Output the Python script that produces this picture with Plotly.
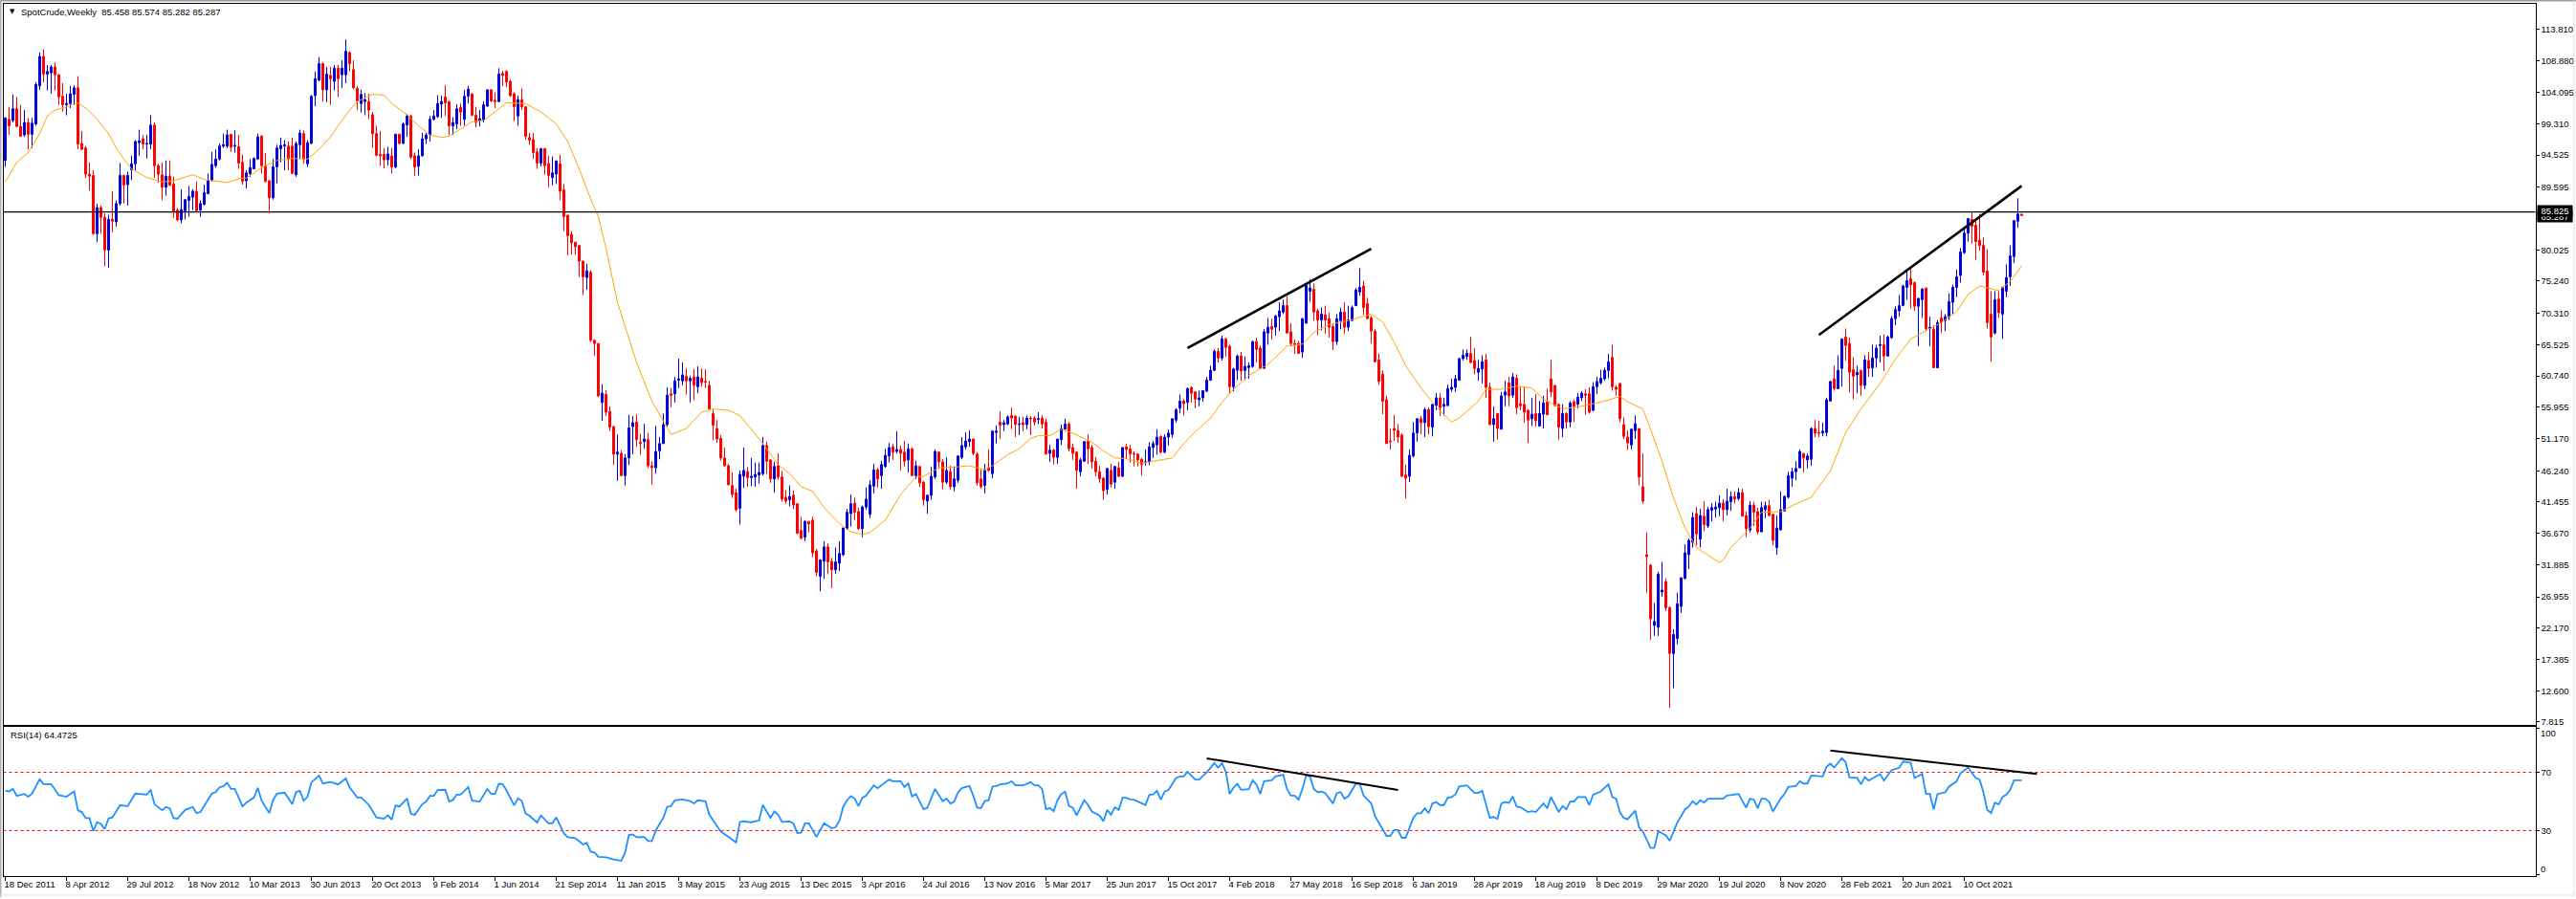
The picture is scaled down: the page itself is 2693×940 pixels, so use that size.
import plotly.graph_objects as go

opens = [
93.7,100.0,99.8,101.6,98.9,97.6,99.5,97.7,99.3,105.1,
109.6,106.9,107.1,108.0,106.8,103.5,102.2,102.4,103.8,104.8,
96.3,95.6,91.6,91.4,82.5,86.5,85.0,80.0,84.7,84.3,
87.1,91.4,90.0,92.3,93.2,96.4,97.0,96.2,96.2,99.1,
92.9,91.5,89.6,91.3,90.1,86.1,84.6,86.0,87.6,88.1,
89.0,86.1,87.0,88.6,90.6,92.9,93.9,95.9,95.9,97.7,
95.9,95.8,93.4,90.6,91.7,92.4,93.9,97.4,92.9,90.6,
88.0,92.7,95.5,95.9,95.9,95.9,91.5,96.1,97.8,93.2,
96.3,103.6,106.0,108.5,104.5,106.7,105.8,107.8,106.8,106.8,
110.2,107.6,104.7,102.4,102.7,102.7,100.7,97.8,94.6,94.6,
93.8,94.4,92.7,97.7,96.3,99.1,100.5,94.4,92.8,94.4,
97.0,97.6,100.0,100.4,102.3,103.4,102.7,99.0,99.3,101.8,
100.0,103.5,103.9,100.6,99.8,99.9,102.0,104.5,102.9,102.7,
107.0,107.3,105.8,103.9,100.5,103.0,101.9,97.2,96.9,95.0,
93.3,95.5,93.2,91.1,91.6,93.2,89.2,85.3,82.4,81.2,
80.7,78.3,75.8,76.6,66.2,65.7,56.7,57.9,55.3,53.0,
48.8,48.9,45.5,48.2,53.0,53.7,50.6,50.7,51.0,47.0,
46.7,49.3,50.4,53.3,58.0,58.0,60.1,60.0,60.7,60.0,
60.6,59.1,60.4,59.9,59.3,55.0,52.7,51.2,48.2,47.0,
44.0,42.9,40.5,45.4,46.1,45.2,45.3,45.6,45.8,50.1,
47.9,45.0,47.0,45.3,42.2,41.8,42.5,41.2,37.1,36.1,
38.5,38.7,34.0,30.1,32.4,34.6,32.4,31.1,32.1,33.4,
37.4,39.7,41.3,40.0,37.4,40.7,39.6,43.9,46.4,45.5,
46.9,48.5,49.9,49.2,49.5,49.1,47.9,49.6,45.5,46.9,
44.5,41.6,42.5,45.3,49.1,47.6,44.5,46.1,43.8,44.8,
48.3,49.9,50.7,51.1,48.8,45.0,44.0,46.7,45.8,52.1,
53.7,53.3,53.4,54.7,54.6,53.3,53.6,53.3,54.3,54.3,
54.1,54.3,53.7,48.9,49.4,48.3,51.0,52.6,53.4,49.8,
49.1,46.1,47.7,50.8,49.8,47.7,46.1,45.1,43.4,46.3,
44.5,46.7,45.4,49.9,49.6,48.9,48.8,48.0,47.5,47.6,
49.8,50.2,51.5,49.1,51.4,51.8,54.0,55.8,56.9,56.7,
59.0,58.3,57.1,57.4,58.4,60.1,61.6,64.5,63.5,66.4,
65.3,59.1,61.6,63.8,61.6,62.0,62.2,66.0,65.0,61.9,
67.3,68.3,68.2,69.8,70.5,71.5,67.5,65.7,65.7,64.4,
68.8,73.7,74.0,70.7,69.3,70.1,69.5,68.3,66.0,69.2,
70.5,68.2,69.2,71.5,73.6,74.5,71.8,69.6,67.6,63.2,
61.0,57.1,50.8,52.7,52.4,51.7,45.6,45.4,48.5,52.0,
54.2,53.6,55.6,52.9,56.2,57.4,56.1,56.2,58.7,59.0,
60.1,63.4,63.7,64.2,63.1,61.3,61.8,63.2,59.0,53.3,
55.0,52.6,57.8,59.7,57.8,60.4,56.5,56.4,55.5,54.2,
55.0,53.1,54.9,56.8,60.3,59.3,56.4,52.7,55.0,53.7,
56.8,56.4,57.4,58.0,58.0,55.5,59.1,59.7,60.3,61.6,
63.6,59.0,59.6,53.3,51.4,50.2,52.4,52.7,43.8,33.4,
31.8,22.6,22.3,27.7,29.3,25.3,18.3,20.6,25.5,29.8,
33.4,35.3,39.7,35.8,39.3,37.8,40.2,40.4,40.6,41.3,
40.3,41.5,42.3,42.0,42.9,39.4,37.2,41.0,40.0,36.9,
40.3,40.9,39.6,34.5,37.2,40.1,42.2,45.1,46.1,46.7,
48.9,47.9,48.0,52.7,52.1,52.0,52.1,56.9,60.3,58.8,
61.9,66.7,65.7,61.7,60.9,61.6,59.3,63.1,62.0,63.5,
65.4,65.5,63.8,66.6,69.5,70.7,71.5,74.3,75.6,75.0,
71.4,72.4,74.2,68.0,67.9,62.0,69.6,69.2,69.8,72.0,
74.3,76.1,79.6,82.6,84.7,83.8,81.5,80.7,76.8,70.2,
67.3,72.5,70.2,73.7,75.9,79.0,84.4,85.458]

highs = [
100.3,101.9,103.8,103.4,102.2,101.4,100.2,100.2,105.7,110.2,
110.7,108.3,108.3,108.7,106.9,105.5,103.9,105.1,105.2,106.6,
98.2,95.9,93.4,92.2,87.1,86.8,85.6,85.4,89.0,87.6,
93.3,91.5,92.0,94.4,96.8,98.4,97.6,97.6,100.6,99.5,
93.2,93.4,93.7,93.7,91.2,86.4,89.3,87.8,89.8,89.3,
90.5,87.6,90.0,91.7,95.0,95.4,96.3,97.8,98.4,97.7,
98.3,97.6,94.6,92.2,93.9,94.2,97.8,97.6,94.8,90.7,
93.9,96.1,97.2,96.8,96.6,97.2,96.6,98.4,98.3,96.8,
103.7,107.3,109.5,108.7,108.0,108.0,108.3,108.3,109.0,112.2,
110.4,109.0,105.1,104.5,104.0,103.9,101.1,99.0,98.2,95.6,
95.8,95.6,97.8,97.8,99.5,100.8,100.7,94.9,95.4,97.9,
97.9,100.5,101.4,103.7,103.6,105.2,102.8,100.3,102.3,102.4,
104.5,105.1,103.9,101.9,101.4,102.7,104.5,104.6,104.1,107.8,
107.4,107.5,106.1,104.1,103.6,104.7,102.0,97.9,97.9,95.6,
95.6,95.6,94.4,94.3,93.7,94.6,90.1,85.4,82.9,81.2,
80.7,78.4,77.9,76.9,66.3,65.7,59.5,58.6,56.1,53.1,
51.8,49.4,48.8,54.8,54.6,54.9,51.9,53.4,52.0,47.7,
53.1,51.4,55.0,59.0,58.9,60.6,63.4,62.8,61.9,60.8,
61.8,62.2,61.9,61.8,60.0,55.6,54.0,51.7,49.8,47.3,
46.0,43.5,46.3,49.8,46.8,48.2,47.5,47.5,51.4,50.7,
48.0,47.6,48.9,46.2,43.3,44.0,43.2,41.2,39.2,38.7,
38.5,39.2,34.3,32.7,35.5,35.1,32.9,34.5,35.5,37.5,
40.4,42.6,42.1,40.6,40.9,43.7,44.8,47.3,46.7,47.8,
49.6,50.5,50.4,52.3,50.1,50.8,50.4,49.8,47.8,46.9,
44.7,42.6,46.9,49.5,49.1,48.0,48.3,47.0,46.9,48.6,
51.4,52.1,52.4,51.2,49.1,46.4,47.3,49.5,52.4,53.2,
55.3,54.0,54.7,55.9,54.7,54.5,54.5,54.7,54.6,54.6,
55.2,54.7,54.2,50.2,49.6,51.1,53.3,54.2,53.7,50.4,
49.2,48.2,50.7,51.8,50.2,48.3,47.0,45.3,46.6,47.3,
47.0,47.6,49.8,50.4,50.2,49.2,48.9,48.2,49.5,50.6,
50.8,52.6,51.6,51.8,52.5,54.2,55.8,57.9,57.2,59.0,
59.1,58.4,58.5,58.5,60.6,62.3,64.8,65.0,66.9,66.6,
65.5,62.0,64.0,64.4,63.7,62.8,66.1,66.6,65.4,67.9,
69.6,69.5,70.1,72.0,72.4,72.9,68.8,66.3,66.1,69.6,
74.6,75.5,74.9,71.0,71.2,71.5,70.4,68.6,70.2,71.2,
72.0,71.5,71.5,74.2,77.2,75.3,72.7,69.9,67.9,64.2,
61.6,57.7,52.7,54.8,53.4,52.0,47.2,49.5,53.7,54.3,
54.6,55.9,55.9,56.4,58.1,58.1,57.4,59.4,60.3,60.9,
63.5,64.8,64.8,66.7,65.0,63.2,63.9,64.1,59.7,56.1,
55.0,58.3,60.0,60.6,61.2,61.0,59.1,59.0,55.6,57.4,
58.0,56.9,57.7,58.8,63.2,59.3,56.5,56.4,55.2,56.9,
57.1,58.1,58.4,58.7,59.0,59.8,60.6,61.7,62.0,64.1,
65.5,59.3,59.7,54.4,52.4,52.7,54.7,52.7,48.9,36.8,
32.0,26.0,30.8,32.3,29.8,25.5,22.0,27.6,29.9,35.0,
35.9,39.9,40.7,40.4,41.6,40.7,41.3,41.5,42.5,41.9,
43.5,43.1,43.1,43.6,43.5,40.0,41.6,41.5,40.6,41.5,
41.5,41.8,39.6,39.4,43.1,42.5,46.1,46.7,47.7,49.5,
48.9,48.9,52.9,54.0,53.9,53.6,57.4,59.9,62.3,63.9,
66.4,68.0,66.6,63.6,62.3,61.6,63.9,64.4,65.5,65.5,
66.9,67.1,66.9,69.9,71.4,73.1,74.7,76.9,77.2,75.2,
72.7,74.2,74.2,69.8,68.5,69.3,70.8,70.2,73.4,74.7,
77.0,80.3,83.2,84.8,85.8,84.5,85.5,81.9,80.1,73.7,
73.7,73.7,74.4,77.8,80.7,84.5,87.9,85.574]

lows = [
92.7,97.6,99.5,98.8,97.3,97.3,95.4,95.6,99.0,104.5,
105.6,104.4,103.9,104.4,102.2,101.2,100.6,101.7,102.2,95.4,
95.3,91.0,89.1,82.3,81.2,82.5,77.5,77.3,82.7,83.6,
86.8,87.1,86.8,90.7,92.2,94.4,95.4,94.0,95.4,91.0,
90.3,87.6,88.3,89.8,84.9,84.4,84.1,84.7,85.1,86.1,
85.7,85.1,86.8,88.6,90.5,92.6,93.7,95.6,95.6,95.0,
94.9,92.4,90.0,89.4,91.2,92.4,93.9,91.7,90.3,85.6,
87.7,90.2,93.4,92.2,92.2,91.6,91.2,93.9,93.2,92.7,
96.2,102.0,105.8,102.7,102.6,102.2,104.4,103.4,104.8,105.5,
107.3,104.6,101.4,101.0,100.6,100.0,95.6,94.3,92.9,92.5,
92.9,91.7,92.5,96.1,96.2,97.3,93.9,91.3,91.4,94.3,
96.2,96.6,99.8,100.2,100.2,100.5,97.6,97.6,98.5,99.0,
99.0,102.4,100.5,98.8,98.9,99.5,101.9,102.6,101.7,102.6,
105.1,104.9,103.4,99.7,99.0,101.4,96.9,96.1,93.9,92.4,
92.8,91.5,89.6,89.9,90.1,87.6,82.9,79.2,79.3,79.3,
75.9,73.1,73.9,65.9,63.8,57.5,53.9,54.6,52.3,47.1,
44.7,45.4,44.0,47.1,48.8,49.9,48.7,49.6,46.7,44.1,
45.8,48.0,50.4,53.0,56.0,56.7,58.9,59.3,57.9,56.7,
57.0,58.1,59.1,58.9,55.6,50.9,50.5,47.8,46.9,44.0,
42.1,40.0,38.0,43.6,43.8,43.9,43.8,44.3,45.5,45.8,
44.4,42.9,44.9,41.5,41.2,40.8,40.4,36.5,35.8,35.5,
36.8,33.0,30.1,27.8,29.7,30.4,28.3,30.5,30.9,33.2,
37.2,37.7,38.7,37.2,36.1,40.3,39.0,42.8,43.7,43.5,
46.7,47.5,47.9,48.9,46.3,46.9,46.0,45.4,45.0,43.8,
40.9,39.7,41.8,45.0,46.6,43.4,44.2,43.4,43.1,44.4,
48.0,49.5,49.9,48.6,44.0,43.5,42.8,46.1,45.1,50.4,
51.1,52.3,53.2,52.6,51.4,51.7,52.3,52.6,51.7,53.2,
53.4,52.7,48.8,47.6,47.2,47.3,50.2,52.6,49.2,47.9,
43.5,45.4,47.7,47.3,46.6,45.4,44.4,41.8,42.6,43.7,
43.5,45.3,45.3,48.0,47.5,46.9,46.9,45.5,47.0,47.1,
48.2,48.7,48.9,48.9,50.1,51.3,53.6,55.0,54.7,55.5,
56.7,55.8,56.1,56.8,58.3,60.0,61.5,62.8,63.1,63.7,
58.1,58.4,60.1,60.0,60.1,60.3,62.0,62.8,61.8,61.9,
65.5,66.3,66.9,67.6,70.2,67.3,65.4,64.1,64.2,63.5,
68.8,72.1,69.2,67.0,67.7,67.2,66.6,64.7,65.5,67.9,
67.2,67.6,69.2,71.4,73.0,70.1,69.5,65.7,62.8,59.4,
54.9,50.4,49.5,50.8,50.5,45.3,42.0,44.5,48.3,50.7,
51.8,51.4,51.8,51.5,55.5,54.6,54.7,56.2,58.3,58.3,
60.1,63.1,63.2,62.7,61.0,60.0,59.6,57.4,53.2,50.7,
51.0,52.6,56.1,56.1,57.4,54.9,55.5,53.6,50.5,53.1,
53.0,53.0,52.7,54.8,57.5,56.2,51.0,51.4,52.7,52.9,
53.7,55.8,56.9,54.8,55.0,55.3,58.0,59.4,60.0,60.4,
58.5,57.7,53.7,51.1,49.4,49.5,51.1,44.0,41.2,27.6,
20.4,21.0,21.0,27.0,24.8,10.0,13.0,19.7,24.5,29.6,
31.2,34.5,34.8,34.5,37.0,37.5,38.5,39.1,39.3,38.5,
39.4,40.1,41.2,41.7,39.3,36.1,36.8,37.8,36.5,36.9,
39.0,39.3,34.8,33.4,37.1,40.0,42.0,43.8,44.8,46.6,
46.0,46.6,47.0,51.4,51.4,51.5,51.5,56.9,58.5,58.8,
59.1,63.1,58.2,57.2,58.1,57.7,58.7,60.6,60.6,62.0,
62.8,61.5,63.7,66.4,68.5,69.8,71.4,72.4,71.0,70.7,
65.3,69.6,67.7,65.3,62.0,61.9,67.3,67.6,69.3,70.1,
72.8,75.0,79.4,81.3,81.0,78.5,79.9,76.1,68.0,62.9,
67.1,69.6,66.4,72.8,74.5,78.0,83.4,85.282]

closes = [
100.2,99.0,101.6,98.9,97.4,99.5,97.7,99.4,105.3,109.6,
106.9,107.3,108.0,106.8,103.4,102.2,102.4,103.9,104.8,96.2,
95.4,91.6,91.3,82.5,86.5,85.0,80.0,84.7,84.4,87.1,
91.4,89.9,91.4,93.2,96.6,96.7,96.2,96.3,99.1,92.9,
91.6,89.6,91.3,89.9,85.9,84.6,86.2,87.7,88.2,89.0,
86.0,87.1,88.8,90.6,93.1,93.9,95.9,96.1,97.6,95.7,
96.0,93.3,90.5,91.8,92.6,94.0,97.3,92.9,90.5,88.0,
92.7,95.6,96.0,96.1,93.9,91.7,96.3,97.9,93.9,96.4,
103.5,106.2,108.5,104.5,106.9,106.2,107.8,106.2,107.8,110.4,
108.5,104.8,102.8,103.8,103.0,101.4,97.8,94.5,94.4,93.8,
94.7,92.7,97.7,96.3,99.3,100.5,94.2,92.7,94.4,97.0,
97.6,100.0,100.5,102.4,102.7,102.5,99.0,99.5,101.6,101.1,
103.5,104.6,100.6,99.5,100.1,102.2,104.5,102.8,102.7,106.9,
106.7,105.7,103.6,101.9,103.0,101.9,97.4,96.8,94.9,93.3,
95.5,92.9,91.4,91.8,93.6,89.0,85.1,82.2,81.1,80.5,
78.3,75.9,76.8,66.2,65.7,57.7,58.1,55.2,52.9,48.8,
49.1,45.5,48.2,52.8,53.6,51.0,50.4,51.1,47.0,46.7,
49.2,50.4,53.3,57.8,57.8,60.0,60.3,60.9,60.0,60.4,
59.3,60.6,59.7,59.8,55.7,53.2,51.1,48.2,47.0,44.1,
42.6,40.3,45.7,46.3,45.2,45.4,45.7,46.0,50.1,47.7,
45.0,46.9,45.3,41.9,41.6,42.3,41.0,36.7,35.9,38.5,
38.1,33.7,30.7,32.6,34.6,32.3,31.1,32.3,33.6,37.5,
39.9,41.2,39.9,37.4,40.7,41.9,44.1,46.4,45.0,47.2,
48.6,49.8,49.1,49.5,48.9,47.7,49.6,45.5,47.0,44.4,
41.8,42.5,45.4,49.2,47.6,44.5,46.3,43.8,45.0,48.5,
50.1,50.8,51.1,48.9,44.4,43.8,46.3,46.3,52.3,52.3,
53.2,53.6,54.5,54.3,53.3,53.4,53.3,54.3,54.2,53.7,
54.2,53.4,48.8,49.4,48.3,51.1,52.7,53.4,49.6,48.9,
46.3,47.9,50.7,49.6,47.6,46.1,45.0,43.2,46.6,44.2,
46.9,45.4,49.8,49.5,48.8,48.8,47.9,47.2,47.6,49.9,
50.4,51.4,49.1,51.4,52.0,54.2,55.6,56.9,56.5,58.8,
58.1,57.2,57.4,58.5,60.1,61.6,64.5,63.5,66.4,65.1,
59.1,61.8,63.8,61.5,62.2,62.3,66.0,64.8,61.9,67.5,
68.2,67.9,69.9,70.7,71.5,67.3,65.7,65.5,64.2,69.5,
74.6,74.2,70.5,69.3,70.2,69.3,68.2,66.0,69.5,70.5,
68.2,69.3,71.2,73.9,74.3,71.2,69.5,67.6,62.9,59.9,
56.9,50.4,50.7,52.4,51.4,45.4,45.1,48.6,52.0,54.2,
53.6,55.6,53.0,56.4,57.4,55.9,56.4,58.8,59.0,60.3,
63.4,63.9,64.2,62.8,61.9,61.9,62.9,59.0,53.3,54.2,
52.7,57.7,58.3,57.7,60.6,55.9,56.2,55.2,54.0,54.9,
53.9,55.0,56.6,54.8,58.3,56.2,52.9,55.0,53.7,56.6,
56.1,57.5,58.1,57.8,55.2,59.1,59.9,60.4,61.6,62.9,
59.1,58.7,54.2,51.5,50.5,52.6,53.4,45.3,41.6,33.1,
23.6,23.2,30.4,28.0,25.3,18.3,21.2,25.9,29.9,33.7,
35.6,39.1,36.6,39.4,38.0,40.3,40.6,40.7,41.3,40.3,
41.6,42.3,41.9,42.9,39.3,37.4,41.0,39.9,36.9,40.6,
40.9,39.4,35.6,37.5,40.3,42.3,45.5,46.1,46.6,49.2,
48.2,48.5,52.7,52.0,52.0,52.3,57.1,59.9,58.8,61.6,
66.4,65.4,61.3,60.7,61.3,59.3,63.2,61.9,63.5,65.0,
65.5,63.8,66.7,69.5,70.9,71.5,74.5,75.3,74.7,71.4,
72.6,74.0,68.0,68.2,62.0,68.9,68.9,69.8,72.1,74.3,
75.9,79.7,82.6,84.8,83.6,81.3,80.7,76.6,68.9,66.7,
72.4,70.4,74.3,75.8,79.1,84.5,85.5,85.287]

ma_week = [0,3,6,9,11,13,16,19,21,24,27,29,31,33,37,41,44,47,49,52,56,58,61,63,67,71,75,79,82,85,87,90,92,96,99,101,105,108,111,114,116,120,122,125,128,131,136,140,144,147,150,153,155,157,160,165,169,
174,178,182,185,189,192,195,198,202,205,208,211,214,218,221,224,226,230,234,238,240,244,248,252,256,258,262,265,268,270,273,276,279,284,287,290,293,297,
301,305,308,311,315,318,321,325,330,335,339,342,346,351,357,360,363,366,370,374,378,380,385,387,391,395,399,402,407,412,418,422,424,428,430,433,436,439,442,448,449,451,456,459,464,467,472,
477,481,485,490,494,498,502,506,510,513,516,521,524,527]
ma_value = [90.4,93.4,94.9,97.8,100.5,101.4,101.9,102.5,101.7,100.0,97.8,95.6,93.9,92.4,91.1,90.4,90.6,91.2,91.5,90.8,90.4,90.3,90.9,91.0,92.6,93.7,94.0,93.9,95.4,97.3,99.0,101.4,102.7,103.8,103.7,102.4,100.7,99.0,97.6,97.2,97.4,98.8,99.6,99.8,101.2,102.5,102.4,101.1,99.3,96.6,92.4,87.8,85.1,80.3,72.0,62.8,56.9,
51.8,52.7,55.2,55.7,55.5,54.7,52.6,50.4,47.2,45.8,43.8,43.1,40.6,38.2,36.9,36.5,36.8,38.7,42.6,45.3,45.4,46.7,46.8,47.0,46.4,47.0,48.7,49.6,51.2,51.6,51.6,52.6,52.0,50.6,49.3,48.2,48.1,47.4,
47.8,48.2,50.4,52.2,54.3,56.7,58.7,60.8,62.5,65.3,65.6,67.4,68.6,69.2,70.2,69.0,65.9,62.3,58.9,56.0,53.7,54.3,56.9,58.7,58.7,59.2,58.9,57.2,55.7,56.1,56.9,57.6,56.8,55.7,52.6,47.7,42.1,37.5,34.5,32.2,32.6,34.5,37.5,39.9,40.0,40.9,42.2,
46.2,52.1,55.7,59.6,63.3,66.4,67.6,68.9,70.6,73.2,74.5,73.8,75.2,77.6]

rsi_week = [0,1,2,3,5,6,7,9,10,12,14,16,18,19,20,21,22,23,24,25,26,27,28,30,32,34,37,38,39,41,42,43,44,45,47,49,50,51,54,55,56,57,58,59,60,62,63,65,66,67,69,70,71,73,75,76,77,78,79,80,82,83,85,87,89,90,92,93,95,97,99,100,101,102,103,105,106,107,109,110,111,112,113,115,116,117,118,119,121,122,124,126,127,128,129,130,131,133,134,135,136,137,139,140,142,143,144,146,147,149,151,152,153,154,155,157,159,161,162,163,164,165,167,168,169,170,171,
172,173,174,175,177,179,180,181,183,184,185,186,187,189,191,192,193,195,196,197,198,200,201,202,203,205,206,207,208,209,210,212,214,216,217,218,219,220,221,222,223,224,225,227,228,231,232,234,235,236,237,238,240,241,243,245,246,247,248,249,250,252,253,254,255,256,257,258,259,260,262,263,264,266,268,269,270,271,272,273,274,275,276,277,278,279,280,282,283,284,286,287,288,289,290,291,292,293,294,295,
298,299,300,301,302,303,304,305,306,307,308,309,311,312,314,316,317,318,319,320,321,322,323,325,326,327,328,329,331,332,334,335,336,337,338,339,340,341,342,343,344,345,347,348,349,350,351,353,354,355,357,358,359,361,362,363,364,365,366,368,369,370,371,372,373,374,375,376,377,378,379,380,382,384,385,386,388,389,390,391,392,393,394,395,396,398,399,400,402,403,404,406,407,408,409,410,411,413,414,415,417,419,420,421,
422,423,424,426,427,428,430,431,432,434,435,437,439,440,441,442,443,444,445,449,450,453,455,456,457,458,459,460,461,462,464,465,466,468,469,470,471,472,475,476,477,478,480,481,482,484,485,486,487,490,491,493,495,496,498,499,501,502,503,504,505,507,508,510,511,513,515,516,517,518,519,520,521,522,523,524,525,526,527]
rsi_value = [57.5,56.9,58.6,53.8,55.1,53.2,55.4,65.2,61.9,61.9,54.3,53.2,56.9,43.8,42.7,38.5,38.5,29.6,35.7,34.6,30.9,38.3,39.0,47.3,46.8,55.4,54.7,58.0,48.1,44.0,46.2,45.1,38.5,38.1,44.2,46.2,42.0,42.7,55.4,56.4,59.7,60.4,62.8,58.6,58.6,46.6,49.2,52.7,59.3,50.5,42.0,51.0,55.4,56.0,48.1,56.4,57.3,50.5,53.2,63.0,67.8,62.3,63.4,61.7,65.8,59.7,52.7,52.7,47.7,39.0,38.1,40.5,37.4,47.3,46.4,52.1,41.6,40.7,48.1,49.9,53.8,53.8,57.8,58.0,49.9,51.0,54.7,54.7,59.9,50.5,49.9,58.6,55.1,55.1,62.1,61.9,57.5,47.3,52.1,50.3,41.6,40.1,35.5,40.3,35.0,35.0,39.0,28.0,25.4,24.8,20.4,21.5,15.4,14.9,11.9,11.6,10.1,9.2,14.9,26.9,27.4,25.4,25.6,22.8,22.8,29.8,34.6,
38.7,46.4,46.8,50.8,51.4,50.3,48.6,50.8,50.1,40.9,37.0,33.7,29.3,25.6,21.7,35.9,36.3,35.7,36.6,37.0,47.5,38.7,43.1,40.9,35.9,36.3,34.8,28.3,28.5,35.0,35.0,25.6,35.0,31.5,32.2,36.6,46.4,50.8,53.6,51.9,46.8,52.5,54.0,61.0,59.1,65.0,63.9,63.9,59.9,62.3,53.4,55.1,44.6,45.7,58.6,50.1,51.9,48.6,49.7,56.2,59.1,60.6,54.0,45.7,45.3,50.3,50.8,60.2,60.6,61.7,62.3,63.9,61.0,61.0,63.2,61.0,61.0,58.4,44.6,45.5,43.3,50.8,55.1,56.7,46.8,45.7,40.3,50.8,47.5,43.1,40.3,36.3,44.2,40.9,46.0,44.2,52.5,52.5,51.4,51.2,
47.5,54.5,54.8,57.3,51.2,56.7,57.8,62.1,66.1,67.2,67.2,70.4,65.0,65.0,70.0,76.3,73.3,76.3,70.4,55.1,59.5,62.1,58.0,58.4,64.5,61.7,55.1,63.9,64.5,67.2,68.3,58.4,54.0,54.0,51.2,58.4,67.8,67.2,58.4,56.4,56.7,55.6,48.6,55.6,56.4,51.9,53.4,62.3,62.1,54.0,48.6,39.8,35.5,26.3,26.3,30.4,30.4,25.0,25.0,38.7,41.9,41.9,45.3,41.9,48.6,49.5,47.5,47.5,52.5,53.0,54.8,60.2,61.0,55.8,55.8,57.3,38.7,39.3,38.0,48.6,49.5,49.0,53.4,46.4,46.0,42.7,43.3,42.7,48.6,45.3,53.0,42.7,46.8,44.6,49.9,49.9,53.0,53.0,47.5,54.7,56.9,61.7,53.0,51.9,
42.5,38.7,37.7,43.6,32.2,29.3,18.0,18.0,29.6,26.7,23.0,35.5,44.6,46.4,50.1,47.9,50.8,49.2,51.9,51.9,54.0,55.1,45.7,51.9,51.2,45.3,51.9,51.9,49.7,43.1,51.9,55.1,59.9,60.6,63.9,62.3,62.3,67.8,67.2,73.7,75.9,73.3,79.8,76.9,66.5,66.1,61.7,66.7,64.3,68.7,64.3,71.5,73.1,77.4,76.6,66.1,68.9,55.1,55.1,44.6,55.1,56.2,60.2,63.9,69.3,73.3,66.1,65.0,56.2,44.2,42.0,49.2,47.9,53.0,54.7,58.0,64.5,64.5,64.5]

week_numbers = list(range(len(opens)))
tick_labels = ["18 Dec 2011","8 Apr 2012","29 Jul 2012","18 Nov 2012","10 Mar 2013","30 Jun 2013","20 Oct 2013","9 Feb 2014","1 Jun 2014","21 Sep 2014","11 Jan 2015","3 May 2015","23 Aug 2015","13 Dec 2015","3 Apr 2016","24 Jul 2016","13 Nov 2016","5 Mar 2017","25 Jun 2017","15 Oct 2017","4 Feb 2018","27 May 2018","16 Sep 2018","6 Jan 2019","28 Apr 2019","18 Aug 2019","8 Dec 2019","29 Mar 2020","19 Jul 2020","8 Nov 2020","28 Feb 2021","20 Jun 2021","10 Oct 2021"]
tick_weeks = [16 * k for k in range(len(tick_labels))]
price_ticks = [113.81,108.88,104.095,99.31,94.525,89.595,84.81,80.025,75.24,70.31,65.525,60.74,55.955,51.17,46.24,41.455,36.67,31.885,26.955,22.17,17.385,12.6,7.815]
rsi_ticks = [100,70,30,0]
level_value = 85.825
rsi_levels = [70, 30]
trend_price_a = ([309, 357], [65.0, 80.2])
trend_price_b = ([474, 527], [67.0, 89.8])
trend_rsi_a = ([314, 364], [79.6, 57.8])
trend_rsi_b = ([477, 531], [84.9, 68.9])

W, H = 2693, 940
L, R, T_MAIN, B_MAIN, T_RSI, B_RSI = 3.5, 2650.5, 4.5, 759.5, 761.5, 917.5
FONT = "Liberation Sans"
FS = 9.5
def px(x): return x / W
def py(y): return 1 - y / H

fig = go.Figure()
fig.add_trace(go.Candlestick(
    x=week_numbers, open=opens, high=highs, low=lows, close=closes, xaxis="x", yaxis="y",
    increasing=dict(line=dict(color="#0000DC", width=1), fillcolor="#0000DC"),
    decreasing=dict(line=dict(color="#FF0000", width=1), fillcolor="#FF0000"),
    whiskerwidth=0, hoverinfo="skip"))
fig.add_trace(go.Scatter(x=ma_week, y=ma_value, mode="lines", xaxis="x", yaxis="y",
                         line=dict(color="#FFA500", width=1), hoverinfo="skip"))
for tx, ty in (trend_price_a, trend_price_b):
    fig.add_trace(go.Scatter(x=tx, y=ty, mode="lines", xaxis="x", yaxis="y",
                             line=dict(color="#000000", width=2.6), hoverinfo="skip"))
fig.add_trace(go.Scatter(x=rsi_week, y=rsi_value, mode="lines", xaxis="x2", yaxis="y2",
                         line=dict(color="#1E90FF", width=1.8), hoverinfo="skip"))
for tx, ty in (trend_rsi_a, trend_rsi_b):
    fig.add_trace(go.Scatter(x=tx, y=ty, mode="lines", xaxis="x2", yaxis="y2",
                             line=dict(color="#000000", width=2), hoverinfo="skip"))

xrange = [(L - 5.5) / 4, (R - 5.5) / 4]
yrange = [7.815 - (B_MAIN - 756.6) * 0.14594, 113.81 + (30.3 - T_MAIN) * 0.14594]
rsi_range = [-(B_RSI - 916.0) / 1.525, 100 + (763.5 - T_RSI) / 1.525]
axis_font = dict(family=FONT, size=FS, color="#000000")

shapes = [dict(type="line", xref="paper", yref="y", x0=px(L), x1=px(R), y0=level_value, y1=level_value,
               line=dict(color="#000000", width=1.3))]
for lv in rsi_levels:
    shapes.append(dict(type="line", xref="paper", yref="y2", x0=px(L), x1=px(R), y0=lv, y1=lv, layer="below",
                       line=dict(color="#FF0000", width=1, dash="3px,3px")))
shapes += [
    dict(type="rect", xref="paper", yref="paper", x0=0, x1=1, y0=py(1.5), y1=1, line_width=0, fillcolor="#9A9A9A"),
    dict(type="rect", xref="paper", yref="paper", x0=0, x1=px(1.5), y0=py(940), y1=1, line_width=0, fillcolor="#B0B0B0"),
    dict(type="rect", xref="paper", yref="paper", x0=px(2690.5), x1=px(2691.5), y0=py(938.5), y1=1, line_width=0, fillcolor="#E0E0E0"),
    dict(type="rect", xref="paper", yref="paper", x0=0, x1=px(2691.5), y0=py(938.5), y1=py(937.5), line_width=0, fillcolor="#E0E0E0"),
]

def note(text, x, y, **kw):
    base = dict(text=text, xref="paper", yref="paper", x=px(x), y=py(y), xanchor="left", yanchor="middle",
                showarrow=False, font=axis_font)
    base.update(kw)
    return base

white = dict(family=FONT, size=FS, color="#FFFFFF")
annotations = [
    note("▼", 8, 12.5, font=dict(family="DejaVu Sans", size=7, color="#000000")),
    note("SpotCrude,Weekly  85.458 85.574 85.282 85.287", 19.5, 12.5),
    note("RSI(14) 64.4725", 8.5, 770.5),
    note("100", 2654, 768.5),
    note("0", 2654, 910.5),
    note("85.287", 2652, 226.5, width=36, height=11, bgcolor="#000000", font=white, align="center", borderpad=0),
    note("85.825", 2652, 220.5, width=36, height=11, bgcolor="#000000", font=white, align="center", borderpad=0),
]

fig.update_layout(
    width=W, height=H, margin=dict(l=0, r=0, t=0, b=0, pad=0), autosize=False,
    paper_bgcolor="#FFFFFF", plot_bgcolor="#FFFFFF", showlegend=False, hovermode=False,
    xaxis=dict(domain=[px(L), px(R)], range=xrange, anchor="y", showticklabels=False, ticks="", showgrid=False,
               zeroline=False, showline=True, linecolor="#000000", linewidth=1, mirror=True,
               rangeslider=dict(visible=False)),
    yaxis=dict(domain=[py(B_MAIN), py(T_MAIN)], range=yrange, anchor="x", side="right", tickmode="array",
               tickvals=price_ticks, tickformat=".3f", ticks="outside", ticklen=3, tickcolor="#000000", showgrid=False,
               zeroline=False, showline=True, linecolor="#000000", linewidth=1, mirror=True, tickfont=axis_font),
    xaxis2=dict(domain=[px(L), px(R)], range=xrange, anchor="y2", tickmode="array", tickvals=tick_weeks,
                ticktext=tick_labels, ticks="outside", ticklen=4, tickcolor="#000000", showgrid=False, zeroline=False,
                showline=True, linecolor="#000000", linewidth=1, mirror=True, tickfont=axis_font,
                ticklabelposition="outside right", ticklabelshift=-2, tickangle=0),
    yaxis2=dict(domain=[py(B_RSI), py(T_RSI)], range=rsi_range,
                anchor="x2", side="right", tickmode="array", tickvals=rsi_ticks,
                ticktext=["", "70", "30", ""], ticks="outside", ticklen=3, tickcolor="#000000", showgrid=False,
                zeroline=False, showline=True, linecolor="#000000", linewidth=1, mirror=True, tickfont=axis_font),
    shapes=shapes, annotations=annotations,
)
fig.write_html("out.html", config=dict(displayModeBar=False), post_script="document.body.style.margin='0';")
